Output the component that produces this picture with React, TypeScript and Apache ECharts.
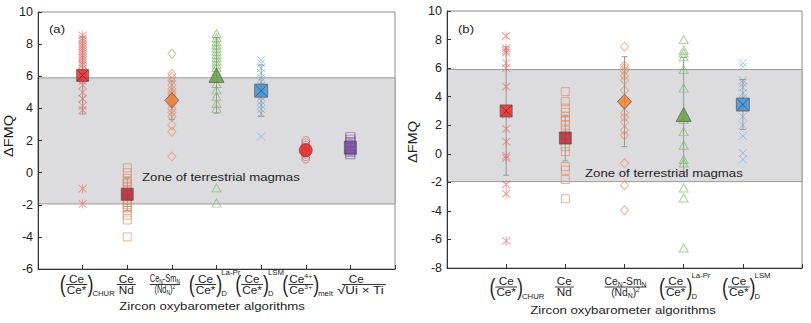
import React, { useEffect, useRef } from 'react';
import * as echarts from 'echarts';

const FONT = '"Liberation Sans", Arial, Helvetica, sans-serif';
const INK = '#1e1e1e';

// ---------- data: panel (a) ----------
const aChur = [8.55, 8.35, 8.2, 8.05, 7.9, 7.75, 7.6, 7.45, 7.3, 7.15, 7.0, 6.85, 6.7, 6.5, 6.3, 6.1, 5.9, 5.7, 5.45, 5.0, 4.6, 4.15, 3.9, -1.0, -1.95];
const aNd = [0.3, 0.0, -0.35, -0.55, -0.7, -0.9, -1.1, -1.25, -1.4, -1.7, -1.85, -2.0, -2.2, -2.35, -2.65, -2.95, -4.0];
const aSmn = [7.4, 6.15, 5.95, 5.7, 5.45, 5.2, 5.0, 4.85, 4.7, 4.4, 4.25, 4.0, 3.75, 3.5, 2.95, 2.55, 1.0];
const aLaPr = [8.65, 8.4, 8.15, 7.95, 7.75, 7.55, 7.35, 7.15, 6.95, 6.75, 6.55, 6.3, 5.55, 5.15, 4.75, 4.3, 4.0, -0.95, -1.9];
const aLsm = [7.0, 6.8, 6.5, 6.2, 5.9, 5.65, 5.4, 4.95, 4.7, 4.45, 4.2, 3.95, 3.7, 2.25];
const aMelt = [2.0, 1.85, 1.7, 1.55, 1.3, 1.15, 1.0, 0.85];
const aSqrt = [2.3, 2.15, 2.0, 1.8, 1.35, 1.2, 1.05];
const aMean = [6.05, -1.35, 4.5, 6.05, 5.1, 1.4, 1.55];
const aErr = [2.4, 1.0, 1.2, 2.35, 1.6, 0.4, 0.5];
const aKinds = ['chur', 'nd', 'smn', 'lapr', 'lsm', 'melt', 'sqrt'];

// ---------- data: panel (b) ----------
const bChur = [8.25, 7.4, 7.22, 7.08, 6.35, 6.0, 4.7, 2.75, 1.75, 0.85, -0.15, -0.3, -2.15, -2.8, -6.1];
const bNd = [4.35, 3.65, 3.2, 2.9, 2.6, 2.3, 2.0, 1.65, 1.3, 0.5, 0.15, -0.9, -1.15, -1.8, -3.15];
const bSmn = [7.5, 6.2, 6.0, 5.8, 5.45, 5.15, 4.45, 2.85, 2.55, 2.2, 1.65, 1.3, -0.65, -2.2, -3.95];
const bLaPr = [8.0, 7.25, 7.05, 6.8, 5.9, 4.6, 2.4, 1.55, 0.6, -0.4, -0.65, -2.4, -3.1, -6.6];
const bLsm = [6.35, 6.1, 5.15, 4.95, 4.65, 4.25, 3.9, 3.2, 2.6, 2.0, 1.25, 0.05, -0.4];
const bMean = [3.0, 1.1, 3.65, 2.75, 3.45];
const bErr = [4.5, 1.6, 3.15, 4.0, 1.75];
const bKinds = ['chur', 'nd', 'smn', 'lapr', 'lsm'];

const zoneRange = [-1.95, 5.9];
const zoneText = 'Zone of terrestrial magmas';
const yName = 'ΔFMQ';
const xName = 'Zircon oxybarometer algorithms';

const ASTER = 'path://M0,1L10,11M10,1L0,11M5,0L5,12';
const CROSS = 'path://M0,0L10,10M10,0L0,10';

const STYLE: Record<string, any> = {
  chur: { sym: ASTER, size: [8, 9], color: 'rgba(238,95,85,0.6)', mSym: 'rect', mSize: 12, mColor: '#e8232b', x: 'rgba(70,20,20,0.7)' },
  nd: { sym: 'rect', size: 8, color: 'rgba(222,135,95,0.65)', mSym: 'rect', mSize: 12, mColor: '#b51f2e' },
  smn: { sym: 'diamond', size: [8, 9], color: 'rgba(236,135,95,0.65)', mSym: 'diamond', mSize: [14, 15], mColor: '#f47a2a' },
  lapr: { sym: 'triangle', size: [9, 8], color: 'rgba(120,185,90,0.65)', mSym: 'triangle', mSize: [15, 14], mColor: '#5ba03d' },
  lsm: { sym: CROSS, size: 8, color: 'rgba(100,160,225,0.55)', mSym: 'rect', mSize: 13, mColor: '#3d8fd6', x: 'rgba(20,40,70,0.7)' },
  melt: { sym: 'circle', size: 8, color: 'rgba(215,80,80,0.6)', mSym: 'circle', mSize: 13, mColor: '#ee1c25' },
  sqrt: { sym: 'rect', size: [9, 6], color: 'rgba(130,90,180,0.7)', mSym: 'rect', mSize: [12, 13], mColor: '#6f3f9f' },
};

const PANELS = [
  {
    grid: { left: 38, top: 12, width: 357, height: 257 },
    yMin: -6, yMax: 10, xMax: 8,
    kinds: aKinds, points: [aChur, aNd, aSmn, aLaPr, aLsm, aMelt, aSqrt], means: aMean, errs: aErr,
    tag: '(a)', tagPos: [49, 29], zonePos: [142, 177], titlePos: [212, 306], yNamePos: [9, 136],
    labelOffsets: [-6, -1, -7, -11, -9, -5, 10], labelScale: [1.14, 1.14, 0.72, 1.14, 1.14, 1.14, 1.3], labelDy: 0,
  },
  {
    grid: { left: 447, top: 11, width: 355, height: 257 },
    yMin: -8, yMax: 10, xMax: 6,
    kinds: bKinds, points: [bChur, bNd, bSmn, bLaPr, bLsm], means: bMean, errs: bErr,
    tag: '(b)', tagPos: [458, 29], zonePos: [585, 173], titlePos: [623, 310], yNamePos: [413, 142],
    labelOffsets: [0, -1, 1, -8, -4], labelScale: [1.14, 1.14, 1.0, 1.14, 1.14], labelDy: 3.5,
  },
];

function buildOption() {
  const grid: any[] = [];
  const xAxis: any[] = [];
  const yAxis: any[] = [];
  const series: any[] = [];
  PANELS.forEach((p, g) => {
    grid.push({ ...p.grid, show: true, borderColor: '#8a8a8a', borderWidth: 1, backgroundColor: 'transparent' });
    xAxis.push({
      type: 'value', gridIndex: g, min: 0, max: p.xMax, interval: 1, z: 6,
      axisLabel: { show: false }, splitLine: { show: false },
      axisLine: { show: true, onZero: false, lineStyle: { color: '#333', width: 1 } },
      axisTick: { show: true, inside: true, length: 4, lineStyle: { color: '#333' } },
    });
    yAxis.push({
      type: 'value', gridIndex: g, min: p.yMin, max: p.yMax, interval: 2, z: 6,
      splitLine: { show: false },
      axisLine: { show: true, onZero: false, lineStyle: { color: '#333', width: 1 } },
      axisTick: { show: true, inside: true, length: 4, lineStyle: { color: '#333' } },
      axisLabel: { fontSize: 12.5, color: '#222', fontFamily: FONT, margin: 5 },
    });
    // zone band
    series.push({
      type: 'scatter', xAxisIndex: g, yAxisIndex: g, data: [], z: 1, silent: true,
      markArea: {
        silent: true,
        label: { show: false },
        itemStyle: { color: '#dcdcde', borderColor: '#9a9a9a', borderWidth: 1 },
        data: [[{ yAxis: zoneRange[0] }, { yAxis: zoneRange[1] }]],
      },
    });
    p.points.forEach((vals, i) => {
      const st = STYLE[p.kinds[i]];
      series.push({
        type: 'scatter', xAxisIndex: g, yAxisIndex: g, z: 2, silent: true,
        symbol: st.sym, symbolSize: st.size,
        itemStyle: { color: 'none', borderColor: st.color, borderWidth: 1, opacity: 1 },
        data: vals.map((v) => [i + 1, v]),
      });
    });
    series.push({
      type: 'custom', xAxisIndex: g, yAxisIndex: g, z: 3, silent: true,
      data: p.means.map((m, i) => [i + 1, m - p.errs[i], m + p.errs[i]]),
      renderItem: (params: any, api: any) => {
        const x = api.value(0);
        const p1 = api.coord([x, api.value(1)]);
        const p2 = api.coord([x, api.value(2)]);
        const st = { stroke: '#9a9a9a', lineWidth: 1 };
        const cap = 3;
        return {
          type: 'group',
          children: [
            { type: 'line', shape: { x1: p1[0], y1: p1[1], x2: p2[0], y2: p2[1] }, style: st },
            { type: 'line', shape: { x1: p1[0] - cap, y1: p1[1], x2: p1[0] + cap, y2: p1[1] }, style: st },
            { type: 'line', shape: { x1: p2[0] - cap, y1: p2[1], x2: p2[0] + cap, y2: p2[1] }, style: st },
          ],
        };
      },
    });
    p.means.forEach((m, i) => {
      const st = STYLE[p.kinds[i]];
      series.push({
        type: 'scatter', xAxisIndex: g, yAxisIndex: g, z: 4, silent: true,
        symbol: st.mSym, symbolSize: st.mSize,
        itemStyle: { color: st.mColor, borderColor: '#4a4a4a', borderWidth: 0.8 },
        data: [[i + 1, m]],
      });
      if (st.x) {
        series.push({
          type: 'scatter', xAxisIndex: g, yAxisIndex: g, z: 5, silent: true,
          symbol: CROSS, symbolSize: 11,
          itemStyle: { color: 'none', borderColor: st.x, borderWidth: 0.9 },
          data: [[i + 1, m]],
        });
      }
    });
  });
  return { animation: false, backgroundColor: '#fff', grid, xAxis, yAxis, series };
}

let measCtx: CanvasRenderingContext2D | null = null;
function measure(s: string, fs: number) {
  if (!measCtx) measCtx = document.createElement('canvas').getContext('2d');
  measCtx!.font = `${fs}px ${FONT}`;
  return measCtx!.measureText(s).width;
}

function txt(s: string, x: number, y: number, fs: number, align: string, sx = 1.14, extra: any = {}) {
  return {
    type: 'text', x, y, scaleX: sx, silent: true, z: 100, ...extra,
    style: {
      text: s, fontSize: fs, fontFamily: FONT, fill: INK,
      align, verticalAlign: 'middle', textAlign: align, textVerticalAlign: 'middle',
    },
  };
}

type Part = { s: string; fs: number; dy?: number };
function seq(parts: Part[], cx: number, cy: number, sx: number, out: any[]) {
  const widths = parts.map((p) => measure(p.s, p.fs) * sx);
  const total = widths.reduce((a, b) => a + b, 0);
  let x = cx - total / 2;
  parts.forEach((p, i) => {
    out.push(txt(p.s, x, cy + (p.dy || 0), p.fs, 'left', sx));
    x += widths[i];
  });
  return total;
}

function buildLabel(kind: string, cx: number, y0: number, sx: number, out: any[]) {
  const fs = 10.3;
  const sub = 6.8;
  const nY = y0 + 10;
  const lY = y0 + 15.5;
  const dY = y0 + 21;
  const pY = y0 + 15;
  const line = (x1: number, x2: number, y: number) =>
    out.push({ type: 'line', silent: true, z: 100, shape: { x1, y1: y, x2, y2: y }, style: { stroke: INK, lineWidth: 0.9 } });
  const parens = (half: number) => {
    out.push(txt('(', cx - half, pY, 24, 'center', 0.75));
    out.push(txt(')', cx + half, pY, 24, 'center', 0.75));
  };
  if (kind === 'chur' || kind === 'lapr' || kind === 'lsm') {
    seq([{ s: 'Ce', fs }], cx, nY, sx, out);
    const w = seq([{ s: 'Ce*', fs }], cx, dY, sx, out);
    line(cx - w / 2 - 1, cx + w / 2 + 1, lY);
    parens(w / 2 + 4);
    if (kind === 'chur') {
      out.push(txt('CHUR', cx + w / 2 + 6, y0 + 25, sub, 'left', sx));
    } else {
      out.push(txt(kind === 'lapr' ? 'La-Pr' : 'LSM', cx + w / 2 + 6, y0 + 4, sub, 'left', sx));
      out.push(txt('D', cx + w / 2 + 6, y0 + 25, sub, 'left', sx));
    }
  } else if (kind === 'nd') {
    seq([{ s: 'Ce', fs }], cx, nY, sx, out);
    const w = seq([{ s: 'Nd', fs }], cx, dY, sx, out);
    line(cx - w / 2 - 2, cx + w / 2 + 2, lY);
  } else if (kind === 'smn') {
    const w = seq([{ s: 'Ce', fs }, { s: 'N', fs: sub, dy: 2.5 }, { s: '-Sm', fs }, { s: 'N', fs: sub, dy: 2.5 }], cx, nY, sx, out);
    seq([{ s: '(Nd', fs }, { s: 'N', fs: sub, dy: 2.5 }, { s: ')', fs }, { s: '2', fs: sub, dy: -3.5 }], cx, dY, sx, out);
    line(cx - w / 2, cx + w / 2, lY);
  } else if (kind === 'melt') {
    const w = seq([{ s: 'Ce', fs }, { s: '4+', fs: sub - 0.8, dy: -3.5 }], cx, nY, sx, out);
    seq([{ s: 'Ce', fs }, { s: '3+', fs: sub - 0.8, dy: -3.5 }], cx, dY, sx, out);
    line(cx - w / 2 - 1, cx + w / 2 + 1, lY);
    parens(w / 2 + 4);
    out.push(txt('melt', cx + w / 2 + 6, y0 + 25, sub, 'left', sx));
  } else if (kind === 'sqrt') {
    seq([{ s: 'Ce', fs }], cx - 4, nY, 1.14, out);
    const w = seq([{ s: '√', fs: fs * 1.15 }, { s: 'Ui × Ti', fs }], cx, dY + 0.5, sx, out);
    line(cx - w / 2 + 5, cx + w / 2 + 2, lY);
  }
}

function buildGraphics(chart: any) {
  const out: any[] = [];
  PANELS.forEach((p, g) => {
    const y0 = p.grid.top + p.grid.height;
    p.kinds.forEach((k, i) => {
      const px = chart.convertToPixel({ gridIndex: g }, [i + 1, p.yMin]);
      buildLabel(k, px[0] + p.labelOffsets[i], y0 + p.labelDy, p.labelScale[i], out);
    });
    out.push(txt(p.tag, p.tagPos[0], p.tagPos[1], 11.5, 'left'));
    out.push(txt(zoneText, p.zonePos[0], p.zonePos[1], 11.6, 'left'));
    out.push(txt(xName, p.titlePos[0], p.titlePos[1], 11.6, 'center'));
    out.push(txt(yName, p.yNamePos[0], p.yNamePos[1], 13, 'center', 1.12, { rotation: Math.PI / 2 }));
  });
  return out;
}

export default function App() {
  const ref = useRef<HTMLDivElement>(null);
  useEffect(() => {
    document.body.style.margin = '0';
    const chart = echarts.init(ref.current!, null, { renderer: 'svg' });
    chart.setOption(buildOption());
    chart.setOption({ graphic: { elements: buildGraphics(chart) } });
    return () => chart.dispose();
  }, []);
  return <div ref={ref} style={{ width: 811, height: 323 }} />;
}
